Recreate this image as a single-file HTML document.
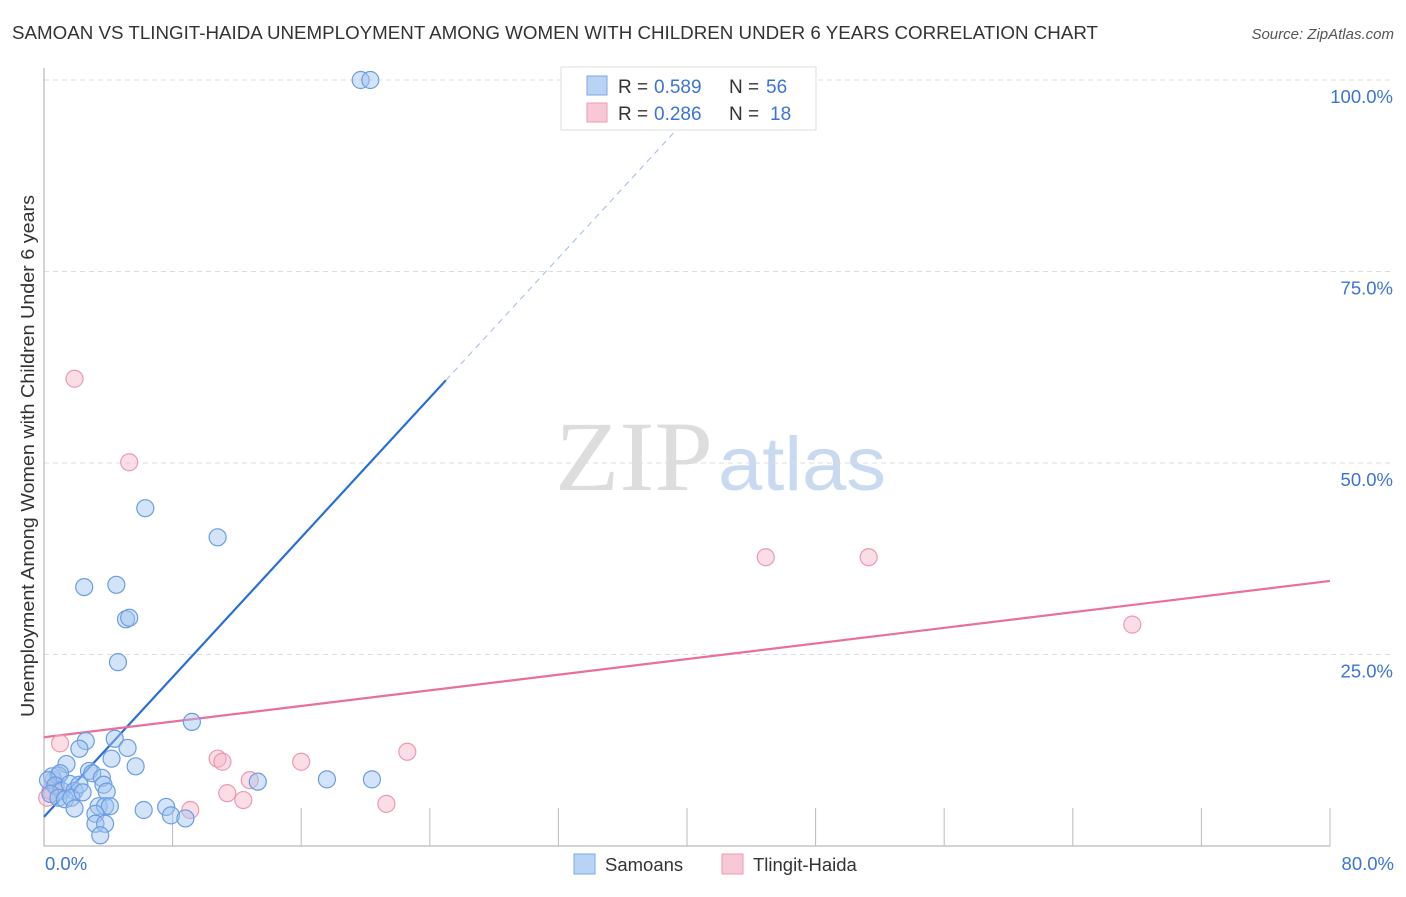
<!DOCTYPE html>
<html><head><meta charset="utf-8"><style>
body{margin:0;background:#fff;font-family:"Liberation Sans",sans-serif;}
</style></head><body>
<svg width="1406" height="892" id="chart" font-family="Liberation Sans, sans-serif">
<text x="12" y="39" font-size="18" fill="#333" textLength="1086" lengthAdjust="spacingAndGlyphs">SAMOAN VS TLINGIT-HAIDA UNEMPLOYMENT AMONG WOMEN WITH CHILDREN UNDER 6 YEARS CORRELATION CHART</text>
<text x="1394" y="39" font-size="15" fill="#555" font-style="italic" text-anchor="end">Source: ZipAtlas.com</text>
<text x="555" y="490" font-size="100" fill="#ddd" textLength="158" lengthAdjust="spacingAndGlyphs" font-family="Liberation Serif, serif">ZIP</text>
<text x="718" y="490" font-size="76" fill="#c9d9ef" textLength="168" lengthAdjust="spacingAndGlyphs">atlas</text>
<text transform="translate(34,456) rotate(-90)" font-size="18" fill="#333" text-anchor="middle" textLength="522" lengthAdjust="spacingAndGlyphs">Unemployment Among Women with Children Under 6 years</text>
<g id="grid"></g><g id="axes"></g><g id="lines"></g><g id="pts"></g>
<g>
<rect x="561" y="67" width="255" height="63" fill="#fff" stroke="#ddd"/>
<rect x="587" y="76" width="20" height="19" fill="#b9d3f5" stroke="#7aa7e6"/>
<rect x="587" y="103" width="20" height="19" fill="#f9c8d6" stroke="#eb9ab2"/>
<text x="618" y="93" font-size="19" fill="#333">R =</text>
<text x="654" y="93" font-size="19" fill="#3a75d4">0.589</text>
<text x="729" y="93" font-size="19" fill="#333">N =</text>
<text x="766" y="93" font-size="19" fill="#3a75d4">56</text>
<text x="618" y="120" font-size="19" fill="#333">R =</text>
<text x="654" y="120" font-size="19" fill="#3a75d4">0.286</text>
<text x="729" y="120" font-size="19" fill="#333">N =</text>
<text x="770" y="120" font-size="19" fill="#3a75d4">18</text>
</g>
<g>
<rect x="574" y="854" width="21" height="20" fill="#b9d3f5" stroke="#7aa7e6"/>
<text x="605" y="871" font-size="18.5" fill="#333">Samoans</text>
<rect x="722" y="854" width="21" height="20" fill="#f9c8d6" stroke="#eb9ab2"/>
<text x="753" y="871" font-size="18.5" fill="#333">Tlingit-Haida</text>
</g>
</svg>
<script>
const blueX=[19.7,20.3,6.3,10.8,2.5,4.5,5.1,5.3,4.6,9.2,2.6,4.4,2.2,5.2,1.4,4.2,5.7,2.8,3.0,3.6,17.6,20.4,13.3,0.5,0.9,1.0,0.25,0.7,1.1,1.6,1.9,0.4,0.9,1.3,1.7,2.2,2.4,3.7,3.9,1.9,3.4,3.8,4.1,3.2,6.2,7.6,7.9,8.8,3.2,3.8,3.5];
const blueY=[100,100,44.1,40.3,33.8,34.1,29.6,29.8,24.0,16.2,13.7,14.0,12.7,12.8,10.7,11.4,10.4,9.8,9.5,8.9,8.7,8.7,8.4,9.1,9.2,9.5,8.6,7.9,7.2,8.1,7.2,6.8,6.3,6.1,6.3,8.0,7.0,8.0,7.1,4.9,5.2,5.2,5.2,4.2,4.7,5.1,4.0,3.6,2.9,2.9,1.4];
const pinkX=[1.9,5.3,44.9,51.3,67.7,1.0,22.6,10.8,11.1,16.0,12.8,11.4,12.4,21.3,9.1,0.4,0.6,0.2,0.75];
const pinkY=[61.0,50.1,37.7,37.7,28.9,13.4,12.3,11.4,11.0,11.0,8.6,6.9,6.0,5.5,4.7,7.2,8.6,6.3,7.7];
const blueLine=[3.8,60.8]; // y at x=0 and x=25
const pinkLine=[14.2,34.6]; // y at x=0 and x=80
const yTicks=[25,50,75,100];
const xTickVals=[8,16,24,32,40,48,56,64,72,80];
const sx=v=>44+v*16.075, sy=v=>846-v*7.66;
const NS="http://www.w3.org/2000/svg";
function mk(p,t,a){const e=document.createElementNS(NS,t);for(const k in a)e.setAttribute(k,a[k]);document.getElementById(p).appendChild(e);return e;}
yTicks.forEach(t=>{
 const l=mk('grid','line',{x1:44,x2:1394,y1:sy(t),y2:sy(t),stroke:'#ddd','stroke-dasharray':'5,4'});
 
 
 const tx=mk('grid','text',{x:1393,y:sy(t)+23,'font-size':18.5,fill:'#3a75d4','text-anchor':'end'});
 tx.textContent=t.toFixed(1)+'%';
 
 
});
mk('axes','line',{x1:44,x2:44,y1:68,y2:846,stroke:'#aaa'});
mk('axes','line',{x1:44,x2:1330,y1:846,y2:846,stroke:'#aaa'});
xTickVals.forEach(t=>{const l=mk('axes','line',{x1:sx(t),x2:sx(t),y1:808,y2:846,stroke:'#bbb'});
 
 });
let t0=mk('axes','text',{x:45,y:870,'font-size':18.5,fill:'#3a75d4'});t0.textContent='0.0%';


let t1=mk('axes','text',{x:1394,y:870,'font-size':18.5,fill:'#3a75d4','text-anchor':'end'});t1.textContent='80.0%';


const bs=(blueLine[1]-blueLine[0])/25, xEnd=(100-blueLine[0])/bs;
let bl=mk('lines','line',{x1:sx(0),y1:sy(blueLine[0]),x2:sx(25),y2:sy(blueLine[1]),stroke:'#2a6fd6','stroke-width':2.2});


let bd=mk('lines','line',{x1:sx(25),y1:sy(blueLine[1]),x2:sx(xEnd),y2:sy(100),stroke:'#9dbbe6','stroke-width':1,'stroke-dasharray':'6,5'});


let pl=mk('lines','line',{x1:sx(0),y1:sy(pinkLine[0]),x2:sx(80),y2:sy(pinkLine[1]),stroke:'#e8709a','stroke-width':2.2});


pinkX.forEach((x,i)=>{const c=mk('pts','circle',{cx:sx(x),cy:sy(pinkY[i]),r:8.5,fill:'rgba(247,180,200,0.45)',stroke:'#eb9ab2','stroke-width':1.2});
 
 });
blueX.forEach((x,i)=>{const c=mk('pts','circle',{cx:sx(x),cy:sy(blueY[i]),r:8.5,fill:'rgba(160,195,240,0.45)',stroke:'#6b9de3','stroke-width':1.2});
 
 });
</script>
</body></html>
